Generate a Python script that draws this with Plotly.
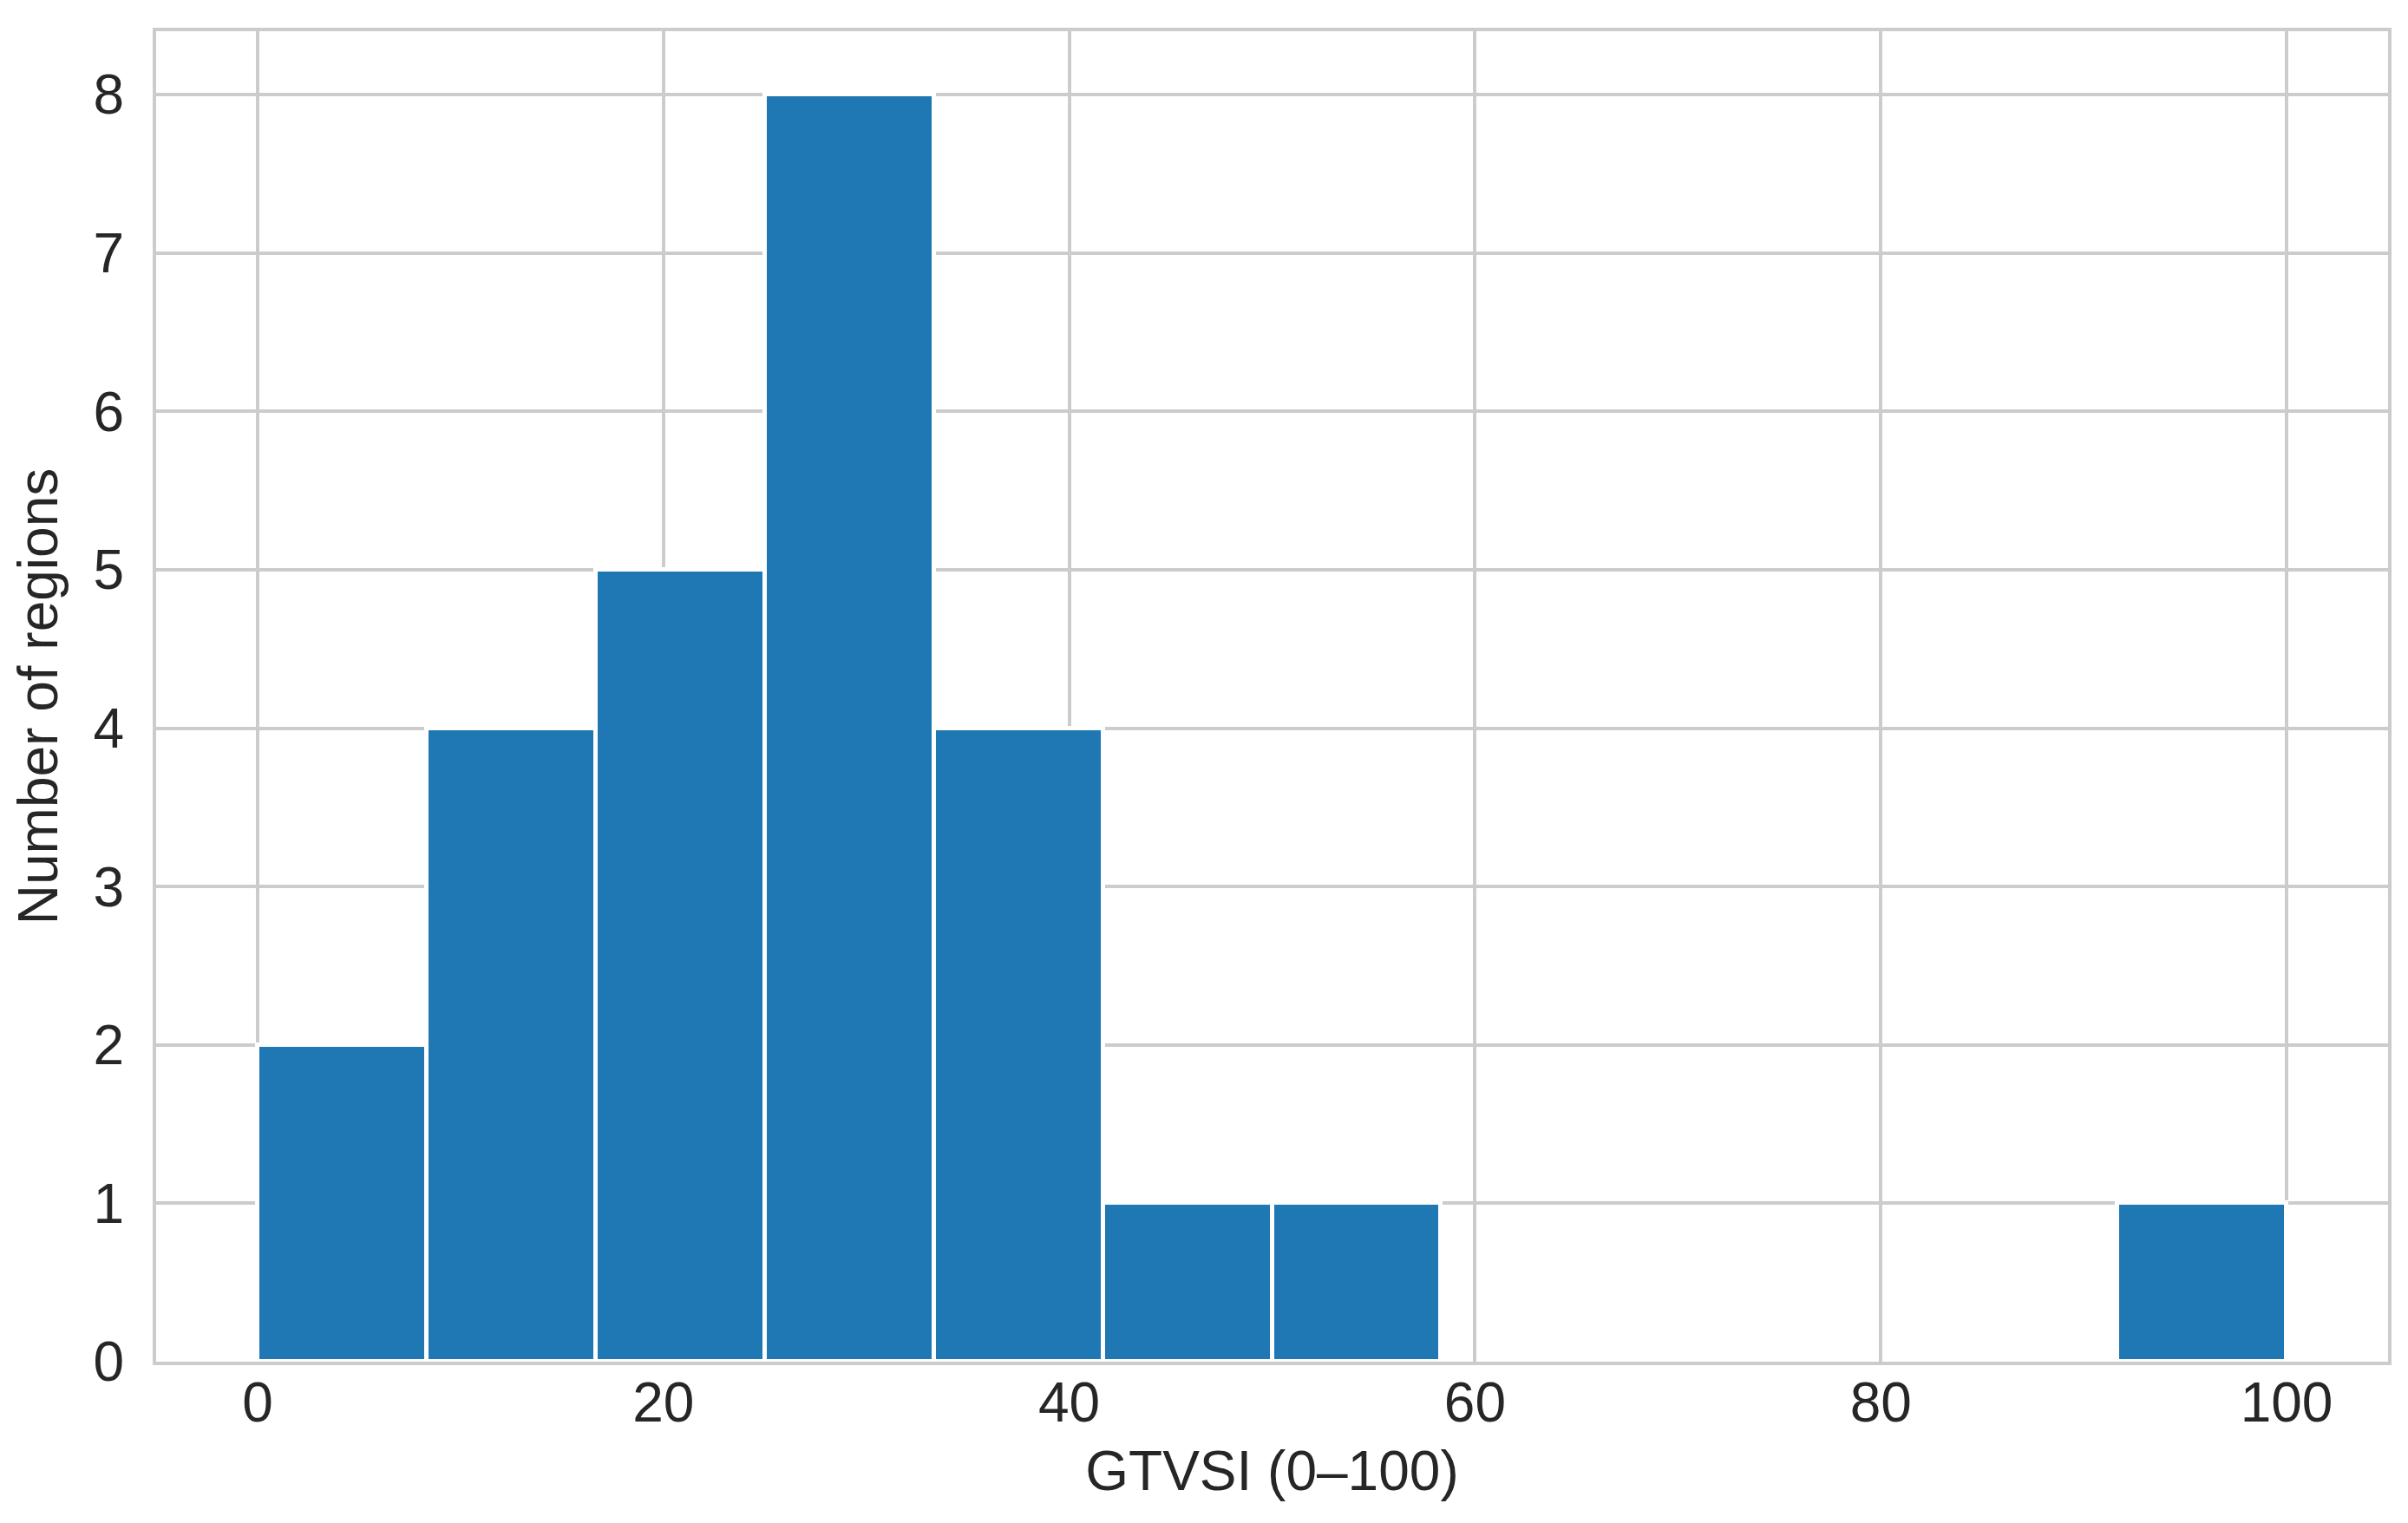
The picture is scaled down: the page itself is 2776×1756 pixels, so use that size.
"""
Histograma del índice GTVSI por región.
"""

import plotly.graph_objects as go


# Rango del índice y número de intervalos del histograma.
GTVSI_MIN = 0
GTVSI_MAX = 100
N_BINS = 12

# Número de regiones en cada intervalo (de izquierda a derecha).
CONTEOS = [2, 4, 5, 8, 4, 1, 1, 0, 0, 0, 0, 1]

# Marcas de los ejes.
X_TICKS = [0, 20, 40, 60, 80, 100]
Y_TICKS = [0, 1, 2, 3, 4, 5, 6, 7, 8]

COLOR_BARRA = "#1f77b4"
COLOR_REJILLA = "#cccccc"
COLOR_TEXTO = "#262626"
FUENTE = "Liberation Sans, Arial, sans-serif"


def main():
    ancho = (GTVSI_MAX - GTVSI_MIN) / N_BINS

    # Centros de cada intervalo, sin los intervalos vacíos.
    centros = list()
    alturas = list()
    for i, c in enumerate(CONTEOS):
        if c == 0:
            continue
        centros.append(GTVSI_MIN + ancho * (i + 0.5))
        alturas.append(c)

    fig = go.Figure()

    fig.add_trace(
        go.Bar(
            x=centros,
            y=alturas,
            width=ancho,
            marker_color=COLOR_BARRA,
            marker_line_color="#FFFFFF",
            marker_line_width=5,
        )
    )

    fig.update_xaxes(
        range=[-5, 105],
        tickvals=X_TICKS,
        ticks="",
        ticklabelstandoff=-12,
        showgrid=True,
        gridcolor=COLOR_REJILLA,
        gridwidth=3.5,
        zeroline=False,
        showline=True,
        linecolor=COLOR_REJILLA,
        linewidth=4,
        mirror=True,
        title_text="GTVSI (0–100)",
        title_standoff=22,
        title_font_size=64,
        tickfont_size=64,
    )

    fig.update_yaxes(
        range=[0, 8.4],
        tickvals=Y_TICKS,
        ticks="",
        ticklabelstandoff=20,
        showgrid=True,
        gridcolor=COLOR_REJILLA,
        gridwidth=3.5,
        zeroline=False,
        showline=True,
        linecolor=COLOR_REJILLA,
        linewidth=4,
        mirror=True,
        title_text="Number of regions",
        title_standoff=28,
        title_font_size=64,
        tickfont_size=64,
    )

    fig.update_layout(
        width=2776,
        height=1756,
        font_family=FUENTE,
        font_color=COLOR_TEXTO,
        showlegend=False,
        bargap=0,
        plot_bgcolor="#FFFFFF",
        paper_bgcolor="#FFFFFF",
        margin_l=172,
        margin_r=31,
        margin_t=28,
        margin_b=194,
    )

    fig.write_html("out.html")


if __name__ == "__main__":
    main()
